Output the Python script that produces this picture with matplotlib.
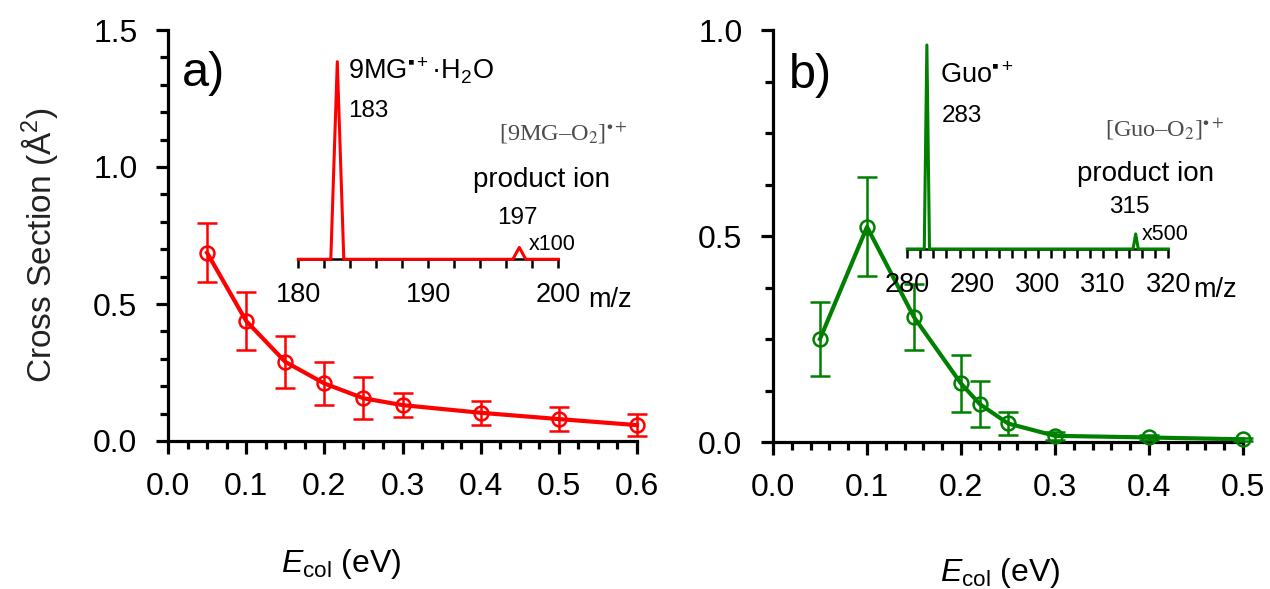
import numpy as np
import matplotlib
matplotlib.use("Agg")
import matplotlib.pyplot as plt
from matplotlib.ticker import MultipleLocator, FormatStrFormatter, FixedLocator

plt.rcParams['font.family'] = ['Liberation Sans', 'DejaVu Sans']
plt.rcParams['mathtext.fontset'] = 'custom'
plt.rcParams['mathtext.rm'] = 'Liberation Sans'
plt.rcParams['mathtext.it'] = 'Liberation Sans:italic'
plt.rcParams['mathtext.bf'] = 'Liberation Sans:bold'
plt.rcParams['mathtext.fallback'] = 'stix'

# panel a) 9MG + O2 cross section
ecol_a = [0.05, 0.10, 0.15, 0.20, 0.25, 0.30, 0.40, 0.50, 0.60]
sigma_a = [0.687, 0.438, 0.289, 0.210, 0.156, 0.131, 0.103, 0.080, 0.058]
err_a = [0.108, 0.105, 0.095, 0.080, 0.077, 0.045, 0.044, 0.045, 0.040]

# panel b) Guo + O2 cross section
ecol_b = [0.05, 0.10, 0.15, 0.20, 0.22, 0.25, 0.30, 0.40, 0.50]
sigma_b = [0.250, 0.522, 0.303, 0.142, 0.092, 0.045, 0.015, 0.011, 0.0065]
err_b = [0.090, 0.120, 0.080, 0.070, 0.055, 0.028, 0.010, 0.007, 0.004]

# inset mass spectra (product peak shown x100 / x500)
mz_a = [180, 182.5, 183, 183.5, 196.5, 197, 197.5, 200]
int_a = [0, 0, 1.0, 0, 0, 0.06, 0, 0]
mz_b = [280, 282.6, 283, 283.4, 314.6, 315, 315.4, 320]
int_b = [0, 0, 1.0, 0, 0, 0.074, 0, 0]

W, H = 1270, 589
fig = plt.figure(figsize=(W / 100, H / 100), dpi=100)


def box(x0, y0, x1, y1):
    # pixel box -> figure fraction [left, bottom, width, height]
    return [x0 / W, 1 - y1 / H, (x1 - x0) / W, (y1 - y0) / H]


def put(x, y, s, **kw):
    kw.setdefault('va', 'baseline')
    kw.setdefault('ha', 'left')
    fig.text(x / W, 1 - y / H, s, **kw)


def style_main(ax):
    for s in ['top', 'right']:
        ax.spines[s].set_visible(False)
    for s in ['left', 'bottom']:
        ax.spines[s].set_linewidth(2.3)
    ax.tick_params(which='major', direction='out', length=9, width=2.3,
                   labelsize=23, pad=13)
    ax.tick_params(which='minor', direction='out', length=5.5, width=2.3)
    ax.xaxis.set_major_formatter(FormatStrFormatter('%.1f'))
    ax.yaxis.set_major_formatter(FormatStrFormatter('%.1f'))


ax1 = fig.add_axes(box(168, 30, 637, 441))
ax1.errorbar(ecol_a, sigma_a, yerr=err_a, fmt='-o', color='#ff0000', lw=3,
             ms=10, mfc='none', mec='#ff0000', mew=1.8, elinewidth=1.8,
             capsize=7, capthick=1.8, clip_on=False, zorder=3)
ax1.set_xlim(0, 0.6)
ax1.set_ylim(0, 1.5)
ax1.xaxis.set_major_locator(MultipleLocator(0.1))
ax1.xaxis.set_minor_locator(MultipleLocator(0.025))
ax1.yaxis.set_major_locator(MultipleLocator(0.5))
ax1.yaxis.set_minor_locator(MultipleLocator(0.1))
style_main(ax1)

ax2 = fig.add_axes(box(773, 30, 1243, 442))
ax2.errorbar(ecol_b, sigma_b, yerr=err_b, fmt='-o', color='#008000', lw=3,
             ms=10, mfc='none', mec='#008000', mew=1.8, elinewidth=1.8,
             capsize=7, capthick=1.8, clip_on=False, zorder=3)
ax2.set_xlim(0, 0.5)
ax2.set_ylim(0, 1.0)
ax2.xaxis.set_major_locator(MultipleLocator(0.1))
ax2.xaxis.set_minor_locator(MultipleLocator(0.02))
ax2.yaxis.set_major_locator(MultipleLocator(0.5))
ax2.yaxis.set_minor_locator(MultipleLocator(0.125))
style_main(ax2)

fig.text(40 / W, 1 - 245 / H, 'Cross Section (Å$^2$)', rotation=90,
         ha='center', va='center', fontsize=24, color='#222222')
fig.text(341 / W, 1 - 564 / H, r'$E_{\rm col}$ (eV)', ha='center',
         va='center', fontsize=23)
fig.text(1000 / W, 1 - 573 / H, r'$E_{\rm col}$ (eV)', ha='center',
         va='center', fontsize=23)
fig.text(182 / W, 1 - 74 / H, 'a)', ha='left', va='center', fontsize=35)
fig.text(789 / W, 1 - 76 / H, 'b)', ha='left', va='center', fontsize=35)


def style_inset(ax, lo, hi, majors):
    ax.patch.set_alpha(0)
    for s in ['top', 'right', 'left']:
        ax.spines[s].set_visible(False)
    ax.spines['bottom'].set_linewidth(1.8)
    ax.set_xlim(lo, hi)
    ax.set_ylim(0, 1)
    ax.set_yticks([])
    ax.xaxis.set_major_locator(FixedLocator(majors))
    ax.xaxis.set_minor_locator(MultipleLocator(2))
    ax.tick_params(which='both', direction='out', length=6.5, width=1.8)
    ax.tick_params(which='major', labelsize=19.5, pad=10)


ins1 = fig.add_axes(box(298.3, 61.7, 558.3, 259.3))
ins1.plot(mz_a, int_a, color='#ff0000', lw=2.2, clip_on=False, zorder=5)
style_inset(ins1, 180, 200, [180, 190, 200])

ins2 = fig.add_axes(box(907.3, 45, 1168.3, 249))
ins2.plot(mz_b, int_b, color='#008000', lw=2.2, clip_on=False, zorder=5)
style_inset(ins2, 280, 320, [280, 290, 300, 310, 320])

# inset annotations
put(348, 80, '9MG$^{▪+}$·H$_2$O', fontsize=19.5)
put(348, 117, '183', fontsize=17.5)
put(499, 140, r'[9MG–O$_2$]$^{\bullet+}$', fontsize=17.5,
    family='Liberation Serif', math_fontfamily='stix', color='#4d4d4d')
put(473, 187, 'product ion', fontsize=20)
put(497, 224, '197', fontsize=17.5)
put(529, 250, 'x100', fontsize=15.5)
put(588, 307, 'm/z', fontsize=19.5)

put(940, 83, 'Guo$^{▪+}$', fontsize=19.5)
put(942, 122, '283', fontsize=17.5)
put(1105, 136, r'[Guo–O$_2$]$^{\bullet+}$', fontsize=17.5,
    family='Liberation Serif', math_fontfamily='stix', color='#4d4d4d')
put(1077, 181, 'product ion', fontsize=20)
put(1109, 213, '315', fontsize=17.5)
put(1142, 240, 'x500', fontsize=15.5)
put(1193, 297, 'm/z', fontsize=19.5)

fig.savefig('out.png', dpi=100)
